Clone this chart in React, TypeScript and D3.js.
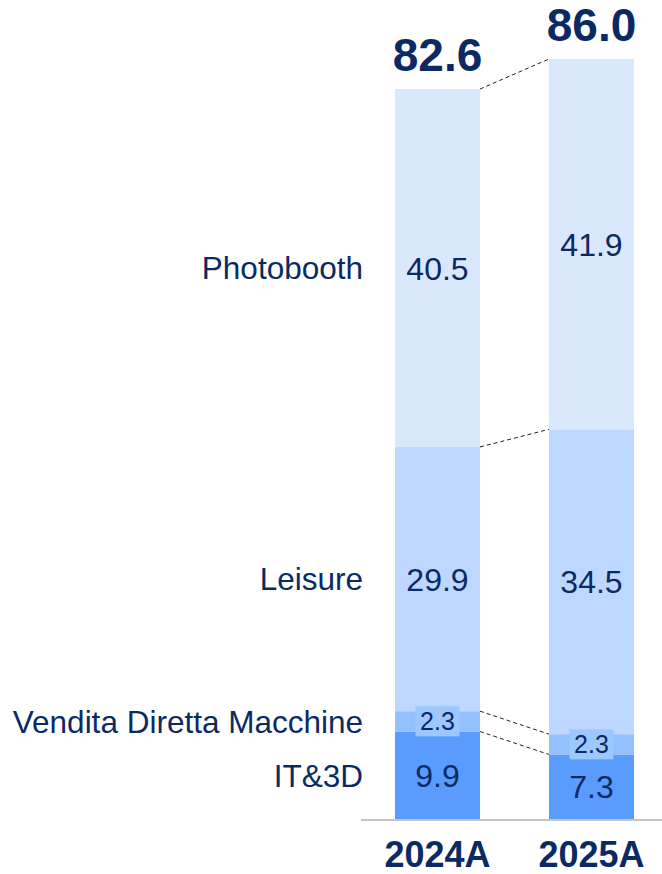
import React from "react";
import * as d3 from "d3";

const years = ["2024A", "2025A"];
const segments = ["IT&3D", "Vendita Diretta Macchine", "Leisure", "Photobooth"];
const itValues = [9.9, 7.3];
const vdmValues = [2.3, 2.3];
const leisureValues = [29.9, 34.5];
const photoValues = [40.5, 41.9];
const totals = [82.6, 86.0];
const segColors = ["#5a9cfe", "#93c0fe", "#bdd7fe", "#d9e8fd"];
const smallBoxColor = "#9cc7ff";

const W = 662;
const H = 874;
const textColor = "#0b2a63";
const font = "'Liberation Sans', Arial, sans-serif";

export default function App() {
  const series = [itValues, vdmValues, leisureValues, photoValues];
  const rows = years.map((y, i) => {
    const r: any = { year: y };
    segments.forEach((s, k) => (r[s] = series[k][i]));
    return r;
  });
  const stack = d3.stack<any>().keys(segments)(rows);

  const x = d3.scaleBand<string>().domain(years).range([395, 634]).paddingInner(0.448).paddingOuter(0);
  const y = d3.scaleLinear().domain([0, 86]).range([819, 59]);
  const bw = x.bandwidth();

  const boundaries = stack.map((layer) => layer.map((d) => d[1]));

  return (
    <svg width={W} height={H} style={{ position: "absolute", left: 0, top: 0 }} fontFamily={font}>
      <rect width={W} height={H} fill="#fff" />
      {stack.map((layer, k) => (
        <g key={layer.key}>
          {layer.map((d, i) => (
            <rect
              key={i}
              x={x(years[i])}
              y={y(d[1])}
              width={bw}
              height={y(d[0]) - y(d[1])}
              fill={segColors[k]}
            />
          ))}
        </g>
      ))}
      {boundaries.map((b, k) => (
        <line
          key={k}
          x1={(x(years[0]) as number) + bw}
          y1={y(b[0])}
          x2={x(years[1]) as number}
          y2={y(b[1])}
          stroke="#222"
          strokeWidth={1}
          strokeDasharray="4,3"
        />
      ))}
      <line x1={361} x2={W} y1={y(0) + 1} y2={y(0) + 1} stroke="#c4c4c4" strokeWidth={2} />
      {stack.map((layer, k) =>
        layer.map((d, i) => {
          const cx = (x(years[i]) as number) + bw / 2;
          const cy = (y(d[0]) + y(d[1])) / 2;
          const val = series[k][i];
          const small = k === 1;
          const fs = small ? 25 : 32;
          return (
            <g key={`${k}-${i}`}>
              {small && <rect x={cx - 22} y={cy - 15} width={44} height={30} fill={smallBoxColor} />}
              <text x={cx} y={cy + fs * 0.36} textAnchor="middle" fontSize={fs} fill={textColor}>
                {val.toFixed(1)}
              </text>
            </g>
          );
        })
      )}
      {stack.map((layer) => {
        const d = layer[0];
        const cy = (y(d[0]) + y(d[1])) / 2;
        return (
          <text key={layer.key} x={363} y={cy + 31.5 * 0.36} textAnchor="end" fontSize={31.5} fill={textColor}>
            {layer.key}
          </text>
        );
      })}
      {totals.map((t, i) => (
        <text
          key={i}
          x={(x(years[i]) as number) + bw / 2}
          y={y(t) - 18}
          textAnchor="middle"
          fontSize={46}
          fontWeight="bold"
          fill={textColor}
        >
          {t.toFixed(1)}
        </text>
      ))}
      {years.map((yr) => (
        <text
          key={yr}
          x={(x(yr) as number) + bw / 2}
          y={867}
          textAnchor="middle"
          fontSize={36}
          fontWeight="bold"
          fill={textColor}
        >
          {yr}
        </text>
      ))}
    </svg>
  );
}
